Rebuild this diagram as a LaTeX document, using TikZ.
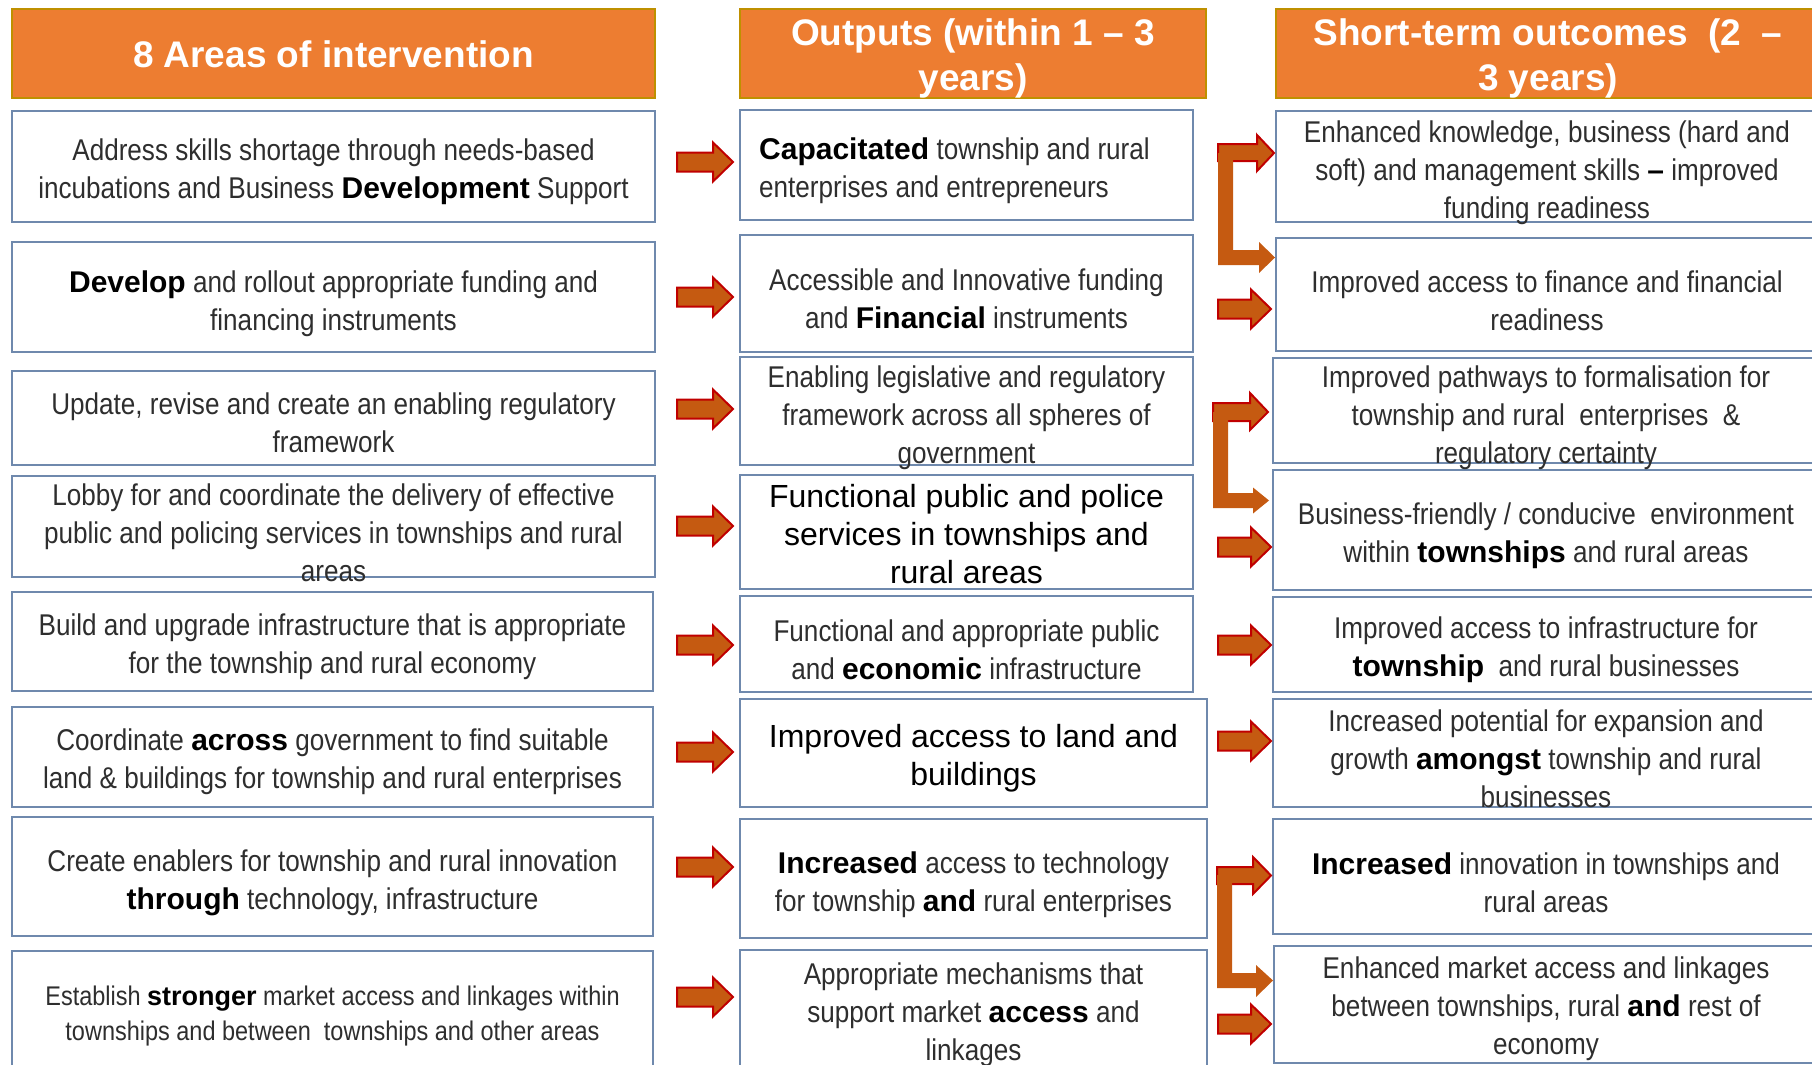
\documentclass[tikz,border=0pt]{standalone}
\usepackage{fontspec}
\setmainfont{Liberation Sans}[FakeStretch=0.87]
\newfontfamily\plainfont{Liberation Sans}
\definecolor{hdrfill}{HTML}{ED7D31}
\definecolor{hdrline}{HTML}{BF9000}
\definecolor{boxline}{HTML}{6F89AD}
\definecolor{arrfill}{HTML}{C55A11}
\definecolor{arrline}{HTML}{C00000}
\definecolor{ink}{HTML}{2E2E2E}
% bold emphasis inside the light body text
\newcommand\B[1]{{\plainfont\bfseries\color{black}#1}}
% a framed cell given by its corner coordinates
\newcommand\cell[6]{\node[#1, minimum width={(#5-#3)*1pt}, minimum height={(#6-#4)*1pt}] (#2) at ({(#3+#5)/2},{(#4+#6)/2}) {};}
% a block arrow pointing right: from x, to x, at y
\newcommand\rarrow[3]{\filldraw[arr] (#1,#3-9.5) -- (#2-20,#3-9.5) -- (#2-20,#3-19.5) -- (#2,#3) -- (#2-20,#3+19.5) -- (#2-20,#3+9.5) -- (#1,#3+9.5) -- cycle;}
\begin{document}
\begin{tikzpicture}[x=1pt,y=-1pt,
  hdr/.style={draw=hdrline, line width=2pt, fill=hdrfill, inner sep=0pt},
  box/.style={draw=boxline, line width=2.6pt, fill=white, inner sep=0pt},
  hdrtxt/.style={text=white, font=\plainfont\bfseries\fontsize{37}{45}\selectfont, align=center, inner sep=0pt},
  txt/.style={text=ink, font=\fontsize{30}{38}\selectfont, align=center, inner sep=0pt, yshift=-3.5pt},
  smalltxt/.style={txt, font=\fontsize{27}{35}\selectfont},
  plain/.style={text=black, font=\plainfont\fontsize{32}{38}\selectfont, align=center, inner sep=0pt, yshift=-1.5pt},
  arr/.style={fill=arrfill, draw=arrline, line width=2pt, line join=miter},
  bar/.style={fill=arrfill}]

\useasboundingbox (0,0) rectangle (1812,1065);
\clip (0,0) rectangle (1812,1065);

% column headers
\cell{hdr}{h1}{12}{9}{655}{98}
\cell{hdr}{h2}{740}{9}{1206}{98}
\cell{hdr}{h3}{1276}{9}{1830}{98}
\node[hdrtxt] (th1) at (333.5,54) {8 Areas of intervention};
\node[hdrtxt] (th2) at (973,58.5) {Outputs (within 1 – 3\\years)};
\node[hdrtxt] (th3) at (1548,58.5) {Short-term outcomes\ \ (2\ \ –\\3 years)};

% areas of intervention
\cell{box}{c1-1}{12}{111}{655}{222}
\cell{box}{c1-2}{12}{242}{655}{352}
\cell{box}{c1-3}{12}{371}{655}{465}
\cell{box}{c1-4}{12}{476}{655}{577}
\cell{box}{c1-5}{12}{592}{653}{691}
\cell{box}{c1-6}{12}{707}{653}{807}
\cell{box}{c1-7}{12}{817}{653}{936}
\cell{box}{c1-8}{12}{951}{653}{1085}

% outputs
\cell{box}{c2-1}{740}{110}{1193}{220}
\cell{box}{c2-2}{740}{235}{1193}{352}
\cell{box}{c2-3}{740}{357}{1193}{465}
\cell{box}{c2-4}{740}{475}{1193}{589}
\cell{box}{c2-5}{740}{596}{1193}{692}
\cell{box}{c2-6}{740}{699}{1207}{807}
\cell{box}{c2-7}{740}{819}{1207}{938}
\cell{box}{c2-8}{740}{950}{1207}{1085}

% short-term outcomes
\cell{box}{c3-1}{1276}{111}{1830}{222}
\cell{box}{c3-2}{1276}{238}{1830}{351}
\cell{box}{c3-3}{1273}{358}{1830}{463}
\cell{box}{c3-4}{1273}{470}{1830}{590}
\cell{box}{c3-5}{1273}{597}{1830}{692}
\cell{box}{c3-6}{1273}{699}{1830}{807}
\cell{box}{c3-7}{1273}{819}{1830}{934}
\cell{box}{c3-8}{1274}{946}{1830}{1063}

% texts, column 1
\node[txt] (t1-1) at (333.5,168) {Address skills shortage through needs-based\\incubations and Business \B{Development} Support};
\node[txt] (t1-2) at (333.5,300) {\B{Develop} and rollout appropriate funding and\\financing instruments};
\node[txt] (t1-3) at (333.5,419) {Update, revise and create an enabling regulatory\\framework};
\node[txt] (t1-4) at (333.5,529) {Lobby for and coordinate the delivery of effective\\public and policing services in townships and rural\\areas};
\node[txt] (t1-5) at (332.5,643) {Build and upgrade infrastructure that is appropriate\\for the township and rural economy};
\node[txt] (t1-6) at (332.5,758) {Coordinate \B{across} government to find suitable\\land \& buildings for township and rural enterprises};
\node[txt] (t1-7) at (332.5,879) {Create enablers for township and rural innovation\\\B{through} technology, infrastructure};
\node[smalltxt] (t1-8) at (332.5,1013) {Establish \B{stronger} market access and linkages within\\townships and between\ \ townships and other areas};

% texts, column 2
\node[txt, align=left, anchor=west] (t2-1) at (759,167) {\B{Capacitated} township and rural\\enterprises and entrepreneurs};
\node[txt] (t2-2) at (966.5,295) {Accessible and Innovative funding\\and \B{Financial} instruments};
\node[txt] (t2-3) at (966.5,414) {Enabling legislative and regulatory\\framework across all spheres of\\government};
\node[plain] (t2-4) at (966.5,533) {Functional public and police\\services in townships and\\rural areas};
\node[txt] (t2-5) at (966.5,646) {Functional and appropriate public\\and \B{economic} infrastructure};
\node[plain] (t2-6) at (973.5,757) {Improved access to land and\\buildings};
\node[txt] (t2-7) at (973.5,881) {\B{Increased} access to technology\\for township \B{and} rural enterprises};
\node[txt] (t2-8) at (973.5,1011) {Appropriate mechanisms that\\support market \B{access} and\\linkages};

% texts, column 3
\node[txt] (t3-1) at (1547,169) {Enhanced knowledge, business (hard and\\soft) and management skills \B{–} improved\\funding readiness};
\node[txt] (t3-2) at (1547,297.5) {Improved access to finance and financial\\readiness};
\node[txt] (t3-3) at (1546,414) {Improved pathways to formalisation for\\township and rural\ \ enterprises\ \ \&\\regulatory certainty};
\node[txt] (t3-4) at (1546,532) {Business-friendly / conducive\ \ environment\\within \B{townships} and rural areas};
\node[txt] (t3-5) at (1546,646.5) {Improved access to infrastructure for\\\B{township}\ \ and rural businesses};
\node[txt] (t3-6) at (1546,755) {Increased potential for expansion and\\growth \B{amongst} township and rural\\businesses};
\node[txt] (t3-7) at (1546,879) {\B{Increased} innovation in townships and\\rural areas};
\node[txt] (t3-8) at (1546,1005) {Enhanced market access and linkages\\between townships, rural \B{and} rest of\\economy};

% arrows from areas to outputs
\rarrow{677}{733}{162}
\rarrow{677}{733}{297}
\rarrow{677}{733}{409}
\rarrow{677}{733}{526}
\rarrow{677}{733}{645}
\rarrow{677}{733}{752}
\rarrow{677}{733}{867}
\rarrow{677}{733}{997}

% arrows from outputs to outcomes
\rarrow{1218}{1271}{309}
\rarrow{1218}{1271}{547}
\rarrow{1218}{1271}{645}
\rarrow{1218}{1271}{741}
\rarrow{1218}{1271}{1024}

% bracket: capacitated -> knowledge and finance readiness
\filldraw[arr] (1218,144) -- (1257,144) -- (1257,135) -- (1274,153) -- (1257,171) -- (1257,161) -- (1218,161) -- cycle;
\fill[bar] (1218,153) -- (1233,153) -- (1233,250) -- (1259,250) -- (1259,242) -- (1275,257.5) -- (1259,273) -- (1259,265) -- (1218,265) -- cycle;

% bracket: legislative framework -> formalisation and environment
\filldraw[arr] (1213,403) -- (1250,403) -- (1250,393) -- (1268,412) -- (1250,430) -- (1250,421) -- (1213,421) -- cycle;
\fill[bar] (1213,412) -- (1228,412) -- (1228,493) -- (1253,493) -- (1253,487.5) -- (1269,500.5) -- (1253,513.5) -- (1253,508) -- (1213,508) -- cycle;

% bracket: technology -> innovation and market linkages
\filldraw[arr] (1217,867) -- (1253,867) -- (1253,857) -- (1271,875.5) -- (1253,894) -- (1253,884) -- (1217,884) -- cycle;
\fill[bar] (1217,875) -- (1232,875) -- (1232,973) -- (1256,973) -- (1256,965) -- (1273,980.5) -- (1256,997) -- (1256,988) -- (1217,988) -- cycle;

\end{tikzpicture}
\end{document}
